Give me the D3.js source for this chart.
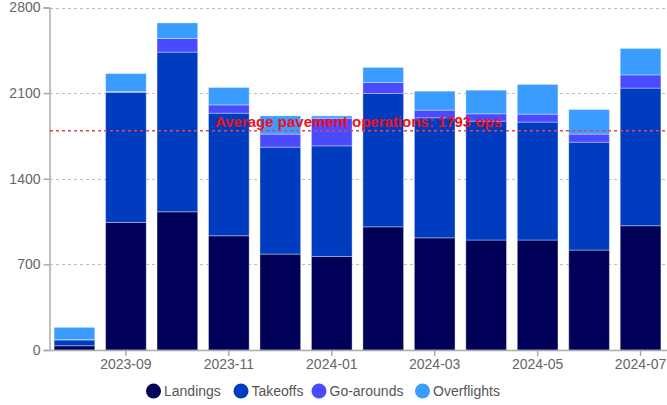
<!DOCTYPE html>
<html>
<head>
<meta charset="utf-8">
<script src="https://cdn.jsdelivr.net/npm/d3@7"></script>
<style>
  html, body { margin: 0; padding: 0; background: #fff; }
  svg { display: block; font-family: "Liberation Sans", Arial, sans-serif; }
</style>
</head>
<body>
<svg id="chart" width="667" height="405"></svg>
<script>
const months = ["2023-08","2023-09","2023-10","2023-11","2023-12","2024-01","2024-02","2024-03","2024-04","2024-05","2024-06","2024-07"];
const landings    = [35, 1043, 1130, 934, 784, 765, 1007, 917, 899, 899, 817, 1016];
const takeoffs    = [47, 1062, 1305, 1002, 874, 904, 1090, 981, 972, 964, 882, 1125];
const goArounds   = [3, 8, 112, 68, 107, 226, 90, 63, 60, 65, 66, 108];
const overflights = [100, 147, 127, 142, 149, 19, 123, 155, 193, 243, 201, 216];
const seriesNames = ["Landings", "Takeoffs", "Go-arounds", "Overflights"];
const seriesColors = ["#000058", "#003cbf", "#4a4aff", "#3a9cff"];
const yTicks = [0, 700, 1400, 2100, 2800];
const xTickLabels = ["2023-09","2023-11","2024-01","2024-03","2024-05","2024-07"];
const averageOps = 1793;
const averageLabel = "Average pavement operations: 1793 ops";

(function () {
const svg = d3.select("#chart");
const W = 667;
const mLeft = 50, mRight = 665, mTop = 7.5, mBottom = 350;

const table = months.map((m, i) => ({
  month: m,
  "Landings": landings[i],
  "Takeoffs": takeoffs[i],
  "Go-arounds": goArounds[i],
  "Overflights": overflights[i]
}));
const stacked = d3.stack().keys(seriesNames)(table);

const x = d3.scaleBand().domain(months).range([mLeft, mRight]).paddingInner(0.21).paddingOuter(0.08);
const y = d3.scaleLinear().domain([0, 2800]).range([mBottom, mTop]);
const color = d3.scaleOrdinal().domain(seriesNames).range(seriesColors);

// grid
svg.append("g").selectAll("line").data(yTicks.filter(d => d > 0)).join("line")
  .attr("x1", mLeft).attr("x2", W)
  .attr("y1", d => Math.round(y(d)) + 0.5).attr("y2", d => Math.round(y(d)) + 0.5)
  .attr("stroke", "#bdbdbd").attr("stroke-dasharray", "3,3").attr("stroke-width", 1);

// bars
svg.append("g").selectAll("g").data(stacked).join("g")
  .attr("fill", d => color(d.key))
  .selectAll("rect").data(d => d).join("rect")
  .attr("x", d => x(d.data.month))
  .attr("width", x.bandwidth())
  .attr("y", d => y(d[1]))
  .attr("height", d => y(d[0]) - y(d[1]))
  .attr("stroke", "rgba(255,255,255,0.35)")
  .attr("stroke-width", 1);

// y axis
const yAxis = svg.append("g").attr("transform", `translate(${mLeft - 0.5},0)`)
  .call(d3.axisLeft(y).tickValues(yTicks).tickFormat(d3.format("d")).tickSize(6).tickPadding(3));
yAxis.select(".domain").attr("stroke", "#aaa").attr("stroke-width", 1.5);
yAxis.selectAll(".tick line").attr("stroke", "#aaa").attr("stroke-width", 1.5);
yAxis.selectAll("text").attr("fill", "#666").style("font-size", "14px");

// x axis
const xAxis = svg.append("g").attr("transform", `translate(0,${mBottom})`)
  .call(d3.axisBottom(x).tickValues(xTickLabels).tickSize(6).tickPadding(3).tickSizeOuter(0));
xAxis.select(".domain").attr("d", `M${mLeft},0.5H${W}`).attr("stroke", "#aaa").attr("stroke-width", 1.5);
xAxis.selectAll(".tick line").attr("stroke", "#aaa").attr("stroke-width", 1.5);
xAxis.selectAll("text").attr("fill", "#666").style("font-size", "14px");

// average line
svg.append("line")
  .attr("x1", mLeft).attr("x2", W)
  .attr("y1", y(averageOps)).attr("y2", y(averageOps))
  .attr("stroke", "#e0474c").attr("stroke-width", 1.5).attr("stroke-dasharray", "3,3");
svg.append("text")
  .attr("x", (mLeft + W) / 2).attr("y", y(averageOps) - 4)
  .attr("text-anchor", "middle")
  .attr("fill", "#f0101a")
  .style("font-size", "15px").style("font-weight", "bold")
  .text(averageLabel);

// legend
const legendX = [153.5, 241, 319, 422.5];
const lg = svg.append("g").selectAll("g").data(seriesNames).join("g")
  .attr("transform", (d, i) => `translate(${legendX[i]},391)`);
lg.append("circle").attr("r", 7.5).attr("fill", d => color(d));
lg.append("text").attr("x", 10.5).attr("dy", "0.35em")
  .attr("fill", "#555").style("font-size", "14px").text(d => d);
})();
</script>
</body>
</html>
